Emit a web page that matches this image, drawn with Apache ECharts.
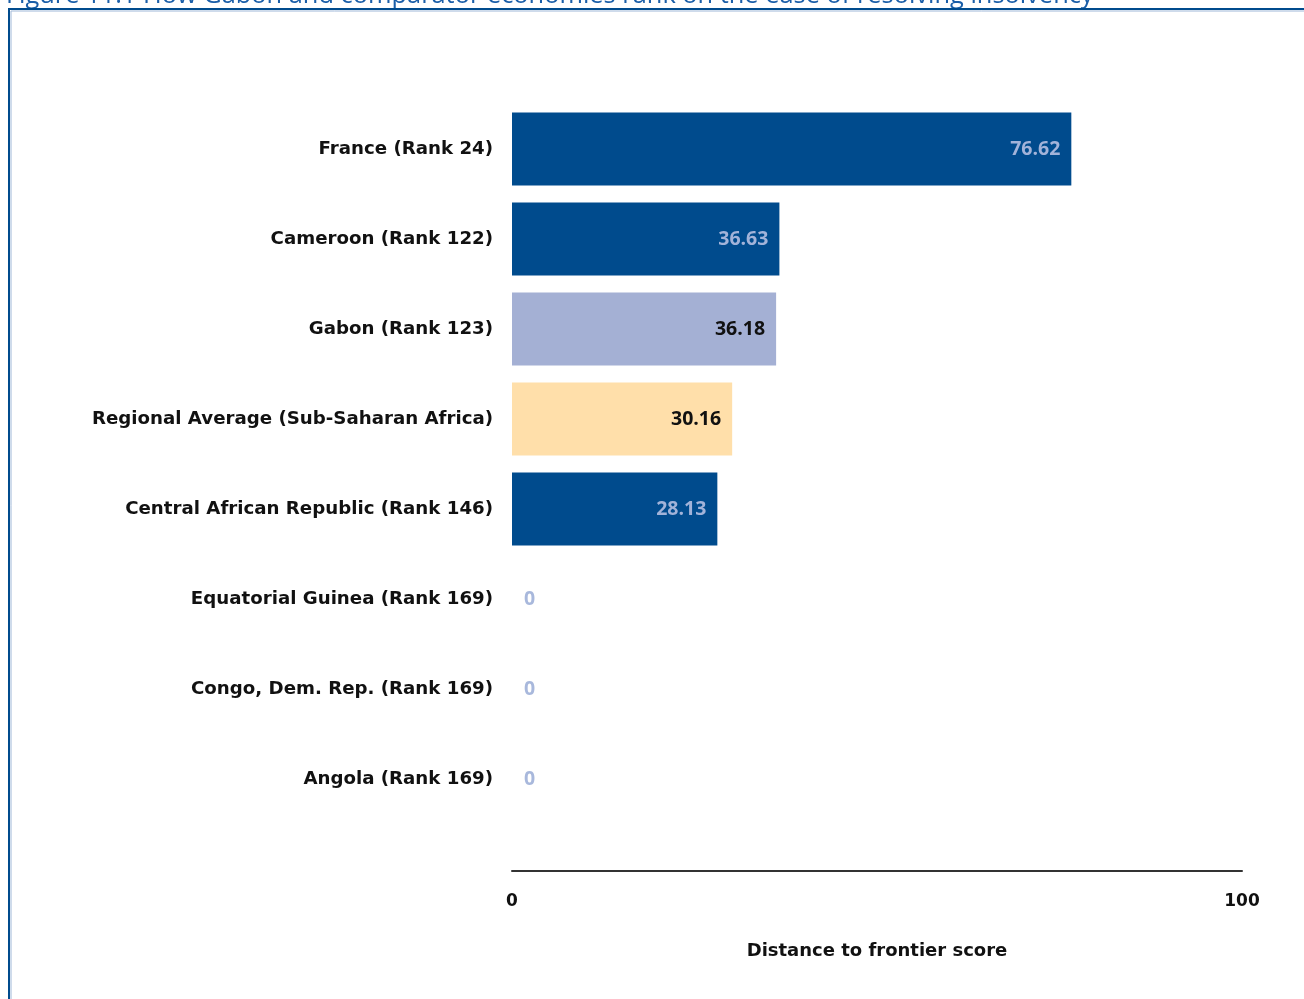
<!DOCTYPE html>
<html>
<head>
<meta charset="utf-8">
<script src="https://cdn.jsdelivr.net/npm/echarts@6/dist/echarts.min.js"></script>
<style>html,body{margin:0;padding:0;background:#fff}#c{width:1304px;height:999px}</style>
</head>
<body>
<div id="c"></div>
<script>
const categories = [
  'France (Rank 24)',
  'Cameroon (Rank 122)',
  'Gabon (Rank 123)',
  'Regional Average (Sub-Saharan Africa)',
  'Central African Republic (Rank 146)',
  'Equatorial Guinea (Rank 169)',
  'Congo, Dem. Rep. (Rank 169)',
  'Angola (Rank 169)'
];
const scores = [76.62, 36.63, 36.18, 30.16, 28.13, 0, 0, 0];
const barKinds = ['comp', 'comp', 'focus', 'region', 'comp', 'comp', 'comp', 'comp'];
const xTicks = [0, 100];
const titleText = 'Figure 11.1 How Gabon and comparator economies rank on the ease of resolving insolvency';

const colors = { comp: '#004b8d', focus: '#a4b0d4', region: '#ffdfaa' };
const labelColors = { comp: '#a2b3d9', focus: '#111111', region: '#111111' };

const data = scores.map((v, i) => {
  const k = barKinds[i];
  const zero = v === 0;
  return {
    value: v,
    itemStyle: { color: colors[k] },
    label: {
      position: zero ? 'right' : 'insideRight',
      distance: zero ? 12 : 11,
      color: zero ? '#a8b8dc' : labelColors[k]
    }
  };
});

const chart = echarts.init(document.getElementById('c'), null, { renderer: 'canvas' });
chart.setOption({
  animation: false,
  backgroundColor: '#ffffff',
  graphic: [
    { type: 'text', left: 6, top: -17, style: { text: titleText, font: '25.4px "Open Sans"', fill: '#1a5ea8' } },
    { type: 'rect', shape: { x: 9, y: 9, width: 1310, height: 1010 }, style: { fill: 'none', stroke: '#004b8d', lineWidth: 2 } },
    { type: 'rect', shape: { x: 11, y: 11, width: 1310, height: 1010 }, style: { fill: 'none', stroke: '#9fb8d8', lineWidth: 1 } }
  ],
  grid: { left: 512, right: 62, top: 104, height: 720, containLabel: false },
  xAxis: {
    type: 'value', min: 0, max: 100, interval: 100,
    offset: 47,
    axisLine: { show: true, lineStyle: { color: '#333333', width: 2 } },
    axisTick: { show: false },
    splitLine: { show: false },
    axisLabel: { margin: 22, fontFamily: '"DejaVu Sans"', fontWeight: 'bold', fontSize: 17, color: '#111',
      formatter: v => xTicks.includes(v) ? String(v) : '' },
    name: 'Distance to frontier score', nameLocation: 'middle', nameGap: 71,
    nameTextStyle: { fontFamily: '"DejaVu Sans"', fontWeight: 'bold', fontSize: 18, color: '#111' }
  },
  yAxis: {
    type: 'category', data: categories, inverse: true,
    axisLine: { show: false }, axisTick: { show: false },
    axisLabel: { margin: 19, fontFamily: '"DejaVu Sans"', fontWeight: 'bold', fontSize: 18.2, color: '#111' }
  },
  series: [{
    type: 'bar', data: data, barCategoryGap: '19%',
    label: { show: true, fontFamily: '"Open Sans"', fontWeight: 'bold', fontSize: 19.5, formatter: p => String(p.value) }
  }]
});
</script>
</body>
</html>
